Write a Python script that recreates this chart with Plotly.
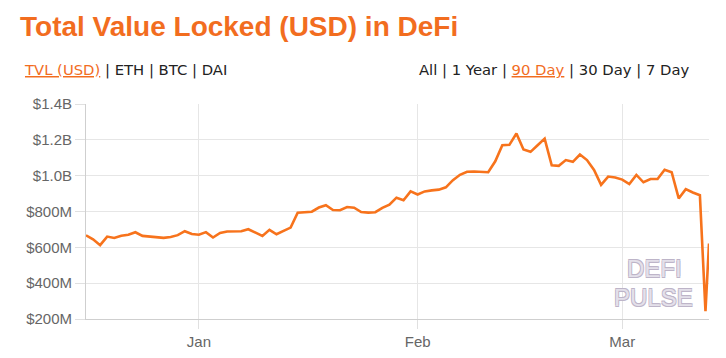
import pandas as pd
import plotly.graph_objects as go

# ---- data (TVL in millions of USD) ----
daily_dates = [d.strftime("%Y-%m-%d") for d in pd.date_range("2019-12-16", "2020-03-12", freq="D")]
extra_dates = ["2020-03-12 19:00", "2020-03-13 07:00"]
dates = daily_dates + extra_dates

tvl_dec = [667, 645, 612, 660, 652, 665, 670, 684, 664, 660, 657, 653, 658, 668, 690, 674]
tvl_jan = [670, 685, 655, 680, 688, 689, 690, 701, 683, 664, 698, 673, 692, 710, 793, 795,
           799, 822, 835, 808, 807, 825, 821, 797, 794, 796, 820, 838, 877, 863, 912]
tvl_feb = [895, 912, 918, 922, 935, 975, 1005, 1022, 1023, 1022, 1019, 1080, 1170, 1172, 1235,
           1146, 1133, 1170, 1207, 1058, 1055, 1087, 1077, 1118, 1087, 1032, 949, 995, 990]
tvl_mar = [978, 953, 1004, 963, 981, 981, 1033, 1019, 873, 925, 906, 891]
tvl_last = [244, 621]
tvl_musd = tvl_dec + tvl_jan + tvl_feb + tvl_mar + tvl_last

x_tick_dates = ["2020-01-01", "2020-02-01", "2020-03-01"]
x_tick_labels = ["Jan", "Feb", "Mar"]
y_tick_vals = [200, 400, 600, 800, 1000, 1200, 1400]
y_tick_labels = ["$200M", "$400M", "$600M", "$800M", "$1.0B", "$1.2B", "$1.4B"]

title_text = "Total Value Locked (USD) in DeFi"
orange = "#f26d1f"

# ---- layout geometry ----
# The page body has an 8px default margin, so the figure is sized to fit
# inside the 726x358 window and window coordinates are shifted by OFF.
OFF = 8
W, H = 726 - 2 * OFF, 358 - 2 * OFF
PL, PR, PT, PB = 86, 709, 104, 319.5          # plot box in window pixels
L, R, T, B = PL - OFF, W - (PR - OFF), PT - OFF, H - (PB - OFF)
PW, PH = W - L - R, H - T - B


def px_x(x):
    return (x - OFF - L) / PW


def px_y(y):
    return (H - B - (y - OFF)) / PH


fig = go.Figure()
fig.add_trace(go.Scatter(
    x=dates, y=tvl_musd, mode="lines",
    line=dict(color="#f7731c", width=2.6),
    hoverinfo="skip", showlegend=False,
))

fig.update_layout(
    width=W, height=H,
    margin=dict(l=L, r=R, t=T, b=B, autoexpand=False),
    paper_bgcolor="white", plot_bgcolor="white",
    font=dict(family="Liberation Sans, Arial, sans-serif"),
    title=dict(
        text=f"<b>{title_text}</b>",
        x=(20 - OFF) / W, xanchor="left", xref="container",
        y=1 - (26.5 - OFF) / H, yanchor="middle", yref="container",
        font=dict(size=28, color=orange, family="Liberation Sans, Arial, sans-serif"),
    ),
    xaxis=dict(
        range=[dates[0], dates[-1]],
        tickvals=x_tick_dates, ticktext=x_tick_labels,
        showgrid=True, gridcolor="#e6e6e6", gridwidth=1,
        showline=True, linecolor="#cfcfcf", linewidth=1,
        ticks="outside", ticklen=9, tickcolor="#e0e0e0",
        tickfont=dict(size=15, color="#666666"),
        zeroline=False, fixedrange=True, automargin=False,
    ),
    yaxis=dict(
        range=[200, 1400],
        tickvals=y_tick_vals, ticktext=y_tick_labels,
        showgrid=True, gridcolor="#e6e6e6", gridwidth=1,
        showline=True, linecolor="#cfcfcf", linewidth=1,
        ticks="outside", ticklen=10, tickcolor="#e0e0e0",
        tickfont=dict(size=15, color="#666666"),
        zeroline=False, fixedrange=True, automargin=False,
    ),
)

sub_font = dict(family="DejaVu Sans, sans-serif", size=14.8, color="#222222")
u_or = f"<span style='color:{orange};text-decoration:underline'>"

fig.add_annotation(
    xref="paper", yref="paper", x=px_x(22), y=px_y(69.5),
    xanchor="left", yanchor="middle", showarrow=False,
    text=f"{u_or}TVL (USD)</span> | ETH | BTC | DAI",
    font=sub_font,
)
fig.add_annotation(
    xref="paper", yref="paper", x=px_x(691), y=px_y(69.5),
    xanchor="right", yanchor="middle", showarrow=False,
    text=f"All | 1 Year | {u_or}90 Day</span> | 30 Day | 7 Day",
    font=sub_font,
)
# watermark (light fill with a faint outline)
oc = "#bdb4c8"
wm_font = dict(
    family="Liberation Sans, Arial, sans-serif", size=24, color="#e4e0ea",
    shadow=f"0.7px 0.7px 0 {oc}, -0.7px -0.7px 0 {oc}, 0.7px -0.7px 0 {oc}, -0.7px 0.7px 0 {oc}",
)
fig.add_annotation(
    xref="paper", yref="paper", x=px_x(654.5), y=px_y(269),
    xanchor="center", yanchor="middle", showarrow=False,
    text="DEFI", font=wm_font,
)
fig.add_annotation(
    xref="paper", yref="paper", x=px_x(653.5), y=px_y(297.5),
    xanchor="center", yanchor="middle", showarrow=False,
    text="PULSE", font=wm_font,
)

fig.write_html("out.html")
